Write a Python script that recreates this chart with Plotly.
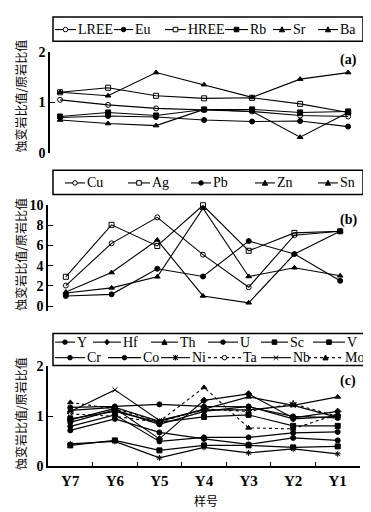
import plotly.graph_objects as go

samples = ["Y7", "Y6", "Y5", "Y4", "Y3", "Y2", "Y1"]

# (a)
LREE = [1.05, 0.95, 0.88, 0.85, 0.82, 0.74, 0.72]
Eu = [0.70, 0.73, 0.71, 0.65, 0.62, 0.63, 0.52]
HREE = [1.20, 1.29, 1.13, 1.08, 1.09, 0.97, 0.80]
Rb = [0.72, 0.80, 0.74, 0.86, 0.86, 0.80, 0.82]
Sr = [0.65, 0.58, 0.54, 0.86, 0.82, 0.31, 0.80]
Ba = [1.20, 1.13, 1.59, 1.35, 1.10, 1.46, 1.59]

# (b)
Cu = [2.03, 6.22, 8.8, 5.1, 1.87, 7.03, 7.42]
Ag = [2.9, 8.06, 5.96, 10.0, 5.48, 7.26, 7.42]
Pb = [1.0, 1.16, 3.7, 2.93, 6.45, 5.16, 2.5]
Zn = [1.3, 1.8, 2.9, 9.7, 2.93, 3.8, 3.0]
Sn = [1.38, 3.32, 6.55, 1.0, 0.32, 5.16, 7.42]

# (c)
Y = [1.18, 1.20, 1.24, 1.20, 1.19, 1.00, 0.97]
Hf = [0.93, 1.16, 0.55, 1.32, 1.45, 0.97, 1.10]
Th = [1.12, 1.18, 0.90, 1.15, 1.39, 1.22, 1.39]
U = [0.88, 1.13, 0.84, 1.10, 1.20, 0.95, 1.00]
Sc = [0.95, 1.10, 0.88, 0.99, 1.03, 0.81, 0.81]
V = [0.42, 0.52, 0.32, 0.42, 0.42, 0.38, 0.40]
Cr = [0.80, 1.03, 0.50, 0.58, 0.58, 0.67, 0.69]
Co = [0.72, 0.95, 0.68, 0.55, 0.44, 0.57, 0.52]
Ni = [0.45, 0.50, 0.17, 0.38, 0.27, 0.35, 0.25]
Ta = [1.05, 1.00, 0.88, 1.15, 1.10, 1.25, 1.00]
Nb = [1.10, 1.53, 0.92, 1.13, 1.13, 1.22, 0.98]
Mo = [1.28, 1.15, 0.90, 1.58, 0.77, 0.75, 1.05]

W, H = 371, 512
SERIF = "Liberation Serif"
CJK = "Noto Sans CJK SC"
YTITLE = "蚀变岩比值/原岩比值"

panels = [
    ("", [("LREE", LREE, "circle-open", "solid"), ("Eu", Eu, "circle", "solid"),
          ("HREE", HREE, "square-open", "solid"), ("Rb", Rb, "square", "solid"),
          ("Sr", Sr, "triangle-up", "solid"), ("Ba", Ba, "triangle-up", "solid")]),
    ("2", [("Cu", Cu, "circle-open", "solid"), ("Ag", Ag, "square-open", "solid"),
           ("Pb", Pb, "circle", "solid"), ("Zn", Zn, "triangle-up", "solid"),
           ("Sn", Sn, "triangle-up", "solid")]),
    ("3", [("Y", Y, "circle", "solid"), ("Hf", Hf, "diamond", "solid"),
           ("Th", Th, "triangle-up", "solid"), ("U", U, "circle", "solid"),
           ("Sc", Sc, "square", "solid"), ("V", V, "square", "solid"),
           ("Cr", Cr, "circle", "solid"), ("Co", Co, "circle", "solid"),
           ("Ni", Ni, "asterisk-open", "solid"), ("Ta", Ta, "star-open", "dot"),
           ("Nb", Nb, "x-thin-open", "solid"), ("Mo", Mo, "triangle-up", "dot")]),
]

fig = go.Figure()
for suffix, series in panels:
    for name, vals, sym, dash in series:
        fig.add_trace(go.Scatter(
            x=samples, y=vals, name=name, mode="lines+markers", showlegend=False,
            xaxis="x" + suffix, yaxis="y" + suffix, cliponaxis=False,
            line=dict(color="black", width=1.1, dash=dash),
            marker=dict(symbol=sym, size=5, color="black",
                        line=dict(color="black", width=1)),
        ))


def px_x(p):
    return p / W


def px_y(p):
    return 1 - p / H


tickfont = dict(family=SERIF, size=14, color="black", weight="bold")
common_y = dict(showline=True, linecolor="black", linewidth=1.5, ticks="inside",
                ticklen=5, tickcolor="black", showgrid=False, zeroline=False,
                tickfont=tickfont)
hidden_x = dict(showticklabels=False, showline=False, showgrid=False, ticks="",
                zeroline=False)

fig.update_layout(
    width=W, height=H, margin=dict(l=0, r=0, t=0, b=0),
    paper_bgcolor="white", plot_bgcolor="white", showlegend=False,
    xaxis=dict(domain=[px_x(42), px_x(355)], anchor="y", range=[-0.21, 6.31], **hidden_x),
    yaxis=dict(domain=[px_y(142), px_y(38)], anchor="x", range=[0, 2], dtick=1, **common_y),
    xaxis2=dict(domain=[px_x(40), px_x(355)], anchor="y2", range=[-0.39, 6.5], **hidden_x),
    yaxis2=dict(domain=[px_y(305), px_y(196)], anchor="x2", range=[-0.5, 10],
                tickvals=[0, 2, 4, 6, 8, 10], **common_y),
    xaxis3=dict(domain=[px_x(40), px_x(352)], anchor="y3", range=[-0.5, 6.5],
                showline=True, linecolor="black", linewidth=1.5, ticks="inside",
                tickson="boundaries", ticklen=5, tickcolor="black", showgrid=False,
                zeroline=False, tickfont=dict(family=SERIF, size=15, color="black",
                                              weight="bold")),
    yaxis3=dict(domain=[px_y(465), px_y(362)], anchor="x3", range=[0, 2], dtick=1, **common_y),
)

# ---- hand-drawn legends (compact symbols like the original figure) ----
# (name, marker, dash, line x0, line x1, row y) in pixels
legend_boxes = [(45, 2, 355, 27), (45, 160, 355, 185), (45, 328, 363, 361)]
legend_items = [
    ("LREE", "circle-open", "solid", 47, 68, 15), ("Eu", "circle", "solid", 106, 125, 15),
    ("HREE", "square-open", "solid", 157, 178, 15), ("Rb", "square", "solid", 217, 240, 15),
    ("Sr", "triangle-up", "solid", 265, 283, 15), ("Ba", "triangle-up", "solid", 310, 330, 15),
    ("Cu", "circle-open", "solid", 57, 77, 173), ("Ag", "square-open", "solid", 120, 142, 173),
    ("Pb", "circle", "solid", 183, 203, 173), ("Zn", "triangle-up", "solid", 247, 267, 173),
    ("Sn", "triangle-up", "solid", 310, 330, 173),
    ("Y", "circle", "solid", 47, 67, 337), ("Hf", "diamond", "solid", 85, 113, 337),
    ("Th", "triangle-up", "solid", 143, 170, 337), ("U", "circle", "solid", 200, 230, 337),
    ("Sc", "square", "solid", 253, 280, 337), ("V", "square", "solid", 305, 337, 337),
    ("Cr", "circle", "solid", 47, 77, 353), ("Co", "circle", "solid", 100, 133, 353),
    ("Ni", "asterisk", "solid", 153, 182, 353), ("Ta", "circle-open", "dot", 200, 233, 353),
    ("Nb", "x", "solid", 253, 283, 353), ("Mo", "triangle-up", "dot", 300, 335, 353),
]

shapes = []
for x0, y0, x1, y1 in legend_boxes:
    shapes.append(dict(type="rect", xref="paper", yref="paper", x0=px_x(x0), x1=px_x(x1),
                       y0=px_y(y1), y1=px_y(y0), line=dict(color="black", width=1.5),
                       fillcolor="white", layer="above"))


def seg(xa, ya, xb, yb, w=1):
    return dict(type="line", xref="paper", yref="paper", x0=px_x(xa), x1=px_x(xb),
                y0=px_y(ya), y1=px_y(yb), line=dict(color="black", width=w), layer="above")


def path(points, fill):
    d = "M" + " L".join(f"{px_x(a):.5f},{px_y(b):.5f}" for a, b in points) + " Z"
    return dict(type="path", xref="paper", yref="paper", path=d, layer="above",
                fillcolor="black" if fill else "white", line=dict(color="black", width=1))


def marker(sym, cx, cy, r=2.3):
    if sym.startswith("circle"):
        return [dict(type="circle", xref="paper", yref="paper", x0=px_x(cx - r), x1=px_x(cx + r),
                     y0=px_y(cy + r), y1=px_y(cy - r), layer="above",
                     fillcolor="white" if sym.endswith("open") else "black",
                     line=dict(color="black", width=1))]
    if sym.startswith("square"):
        return [path([(cx - r, cy - r), (cx + r, cy - r), (cx + r, cy + r), (cx - r, cy + r)],
                     not sym.endswith("open"))]
    if sym == "triangle-up":
        return [path([(cx, cy - r - 0.5), (cx + r + 0.3, cy + r), (cx - r - 0.3, cy + r)], True)]
    if sym == "diamond":
        return [path([(cx, cy - r - 0.5), (cx + r, cy), (cx, cy + r + 0.5), (cx - r, cy)], True)]
    if sym == "asterisk":
        return [seg(cx - r, cy - r, cx + r, cy + r, 1.2), seg(cx - r, cy + r, cx + r, cy - r, 1.2),
                seg(cx, cy - r - 0.5, cx, cy + r + 0.5, 1.2)]
    if sym == "x":
        return [seg(cx - r, cy - r, cx + r, cy + r), seg(cx - r, cy + r, cx + r, cy - r)]
    return []


for name, sym, dash, x0, x1, yy in legend_items:
    ln = seg(x0, yy, x1, yy, 1.1)
    ln["line"]["dash"] = dash
    shapes.append(ln)
    shapes.extend(marker(sym, (x0 + x1) / 2, yy))
    fig.add_annotation(text=name, xref="paper", yref="paper", x=px_x(x1), y=px_y(yy),
                       xanchor="left", yanchor="middle", showarrow=False,
                       font=dict(family=SERIF, size=14, color="black"))

fig.update_layout(shapes=shapes)

for txt, yc in [("(a)", 46), ("(b)", 211), ("(c)", 377)]:
    fig.add_annotation(text=txt, xref="paper", yref="paper", x=px_x(340), y=px_y(yc),
                       xanchor="center", yanchor="middle", showarrow=False,
                       font=dict(family=SERIF, size=14, color="black", weight="bold"))

for yc in [84, 247, 411]:
    fig.add_annotation(text=YTITLE, xref="paper", yref="paper", x=px_x(13), y=px_y(yc),
                       xanchor="center", yanchor="middle", textangle=-90, showarrow=False,
                       font=dict(family=CJK, size=12, color="black"))

fig.add_annotation(text="样号", xref="paper", yref="paper", x=px_x(198), y=px_y(500),
                   xanchor="center", yanchor="middle", showarrow=False,
                   font=dict(family=CJK, size=12, color="black"))

fig.write_html("out.html")
